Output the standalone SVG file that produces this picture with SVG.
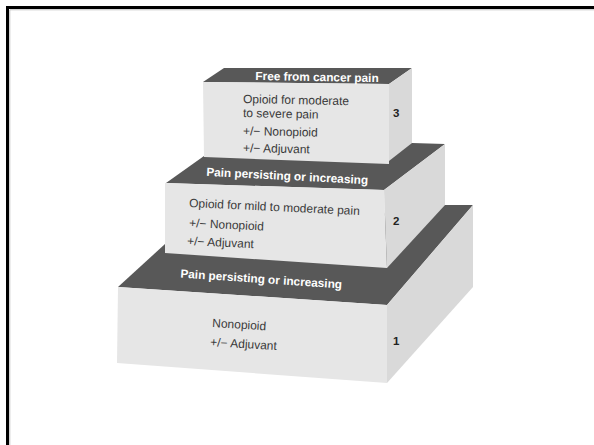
<svg xmlns="http://www.w3.org/2000/svg" width="594" height="445" viewBox="0 0 594 445">
<style>
.front{fill:#e6e6e6}
.side{fill:#d9d9d9}
.top{fill:#585858}
.hdr{font-family:"Liberation Sans",Arial,sans-serif;font-weight:bold;font-size:11.8px;fill:#ffffff;text-anchor:middle}
.body{font-family:"Liberation Sans",Arial,sans-serif;font-size:12px;fill:#3a3a3a}
.num{font-family:"Liberation Sans",Arial,sans-serif;font-weight:bold;font-size:11.5px;fill:#222}
</style>
<rect x="0" y="0" width="594" height="445" fill="#ffffff"/>
<rect x="7.5" y="7.5" width="600" height="450" fill="none" stroke="#000" stroke-width="3"/>
<line x1="10" y1="9.8" x2="594" y2="9.8" stroke="#999" stroke-width="0.6"/>
<line x1="9.8" y1="10" x2="9.8" y2="445" stroke="#999" stroke-width="0.6"/>

<g id="tier1">
<polygon class="top" points="118,287 165,244 445,205 473,205 387,305"/>
<polygon class="front" points="118,287 387,305 387,383 117,363"/>
<polygon class="side" points="387,305 473,205 473,287 387,383"/>
<text class="hdr" x="261" y="283" transform="rotate(3.9 261 283)">Pain persisting or increasing</text>
<text class="body" x="212" y="327" transform="rotate(3.5 212 327)">Nonopioid</text>
<text class="body" x="210" y="346" transform="rotate(3.5 210 346)">+/− Adjuvant</text>
<text class="num" x="393" y="345">1</text>
</g>

<g id="tier2">
<polygon class="top" points="166,183 204,156 412,143 445,144 384,190"/>
<polygon class="front" points="165,183 384,190 387,268 165,253"/>
<polygon class="side" points="384,190 445,144 445,205 387,268"/>
<text class="hdr" x="287" y="180" transform="rotate(3 287 180)">Pain persisting or increasing</text>
<text class="body" x="189" y="207" transform="rotate(2.7 189 207)">Opioid for mild to moderate pain</text>
<text class="body" x="189" y="227" transform="rotate(2.7 189 227)">+/− Nonopioid</text>
<text class="body" x="187" y="245" transform="rotate(2.7 187 245)">+/− Adjuvant</text>
<text class="num" x="393" y="225">2</text>
</g>

<g id="tier3">
<polygon class="top" points="203,82 224,68 412,68 389,84"/>
<polygon class="front" points="203,82 389,84 389,164 204,157"/>
<polygon class="side" points="389,84 412,68 412,143 389,161"/>
<text class="hdr" x="317" y="81" transform="rotate(1 317 81)">Free from cancer pain</text>
<text class="body" x="243" y="103" transform="rotate(1.2 243 103)">Opioid for moderate</text>
<text class="body" x="243" y="117" transform="rotate(1.2 243 117)">to severe pain</text>
<text class="body" x="243" y="135" transform="rotate(1.2 243 135)">+/− Nonopioid</text>
<text class="body" x="243" y="152" transform="rotate(1.2 243 152)">+/− Adjuvant</text>
<text class="num" x="393" y="117">3</text>
</g>
</svg>
